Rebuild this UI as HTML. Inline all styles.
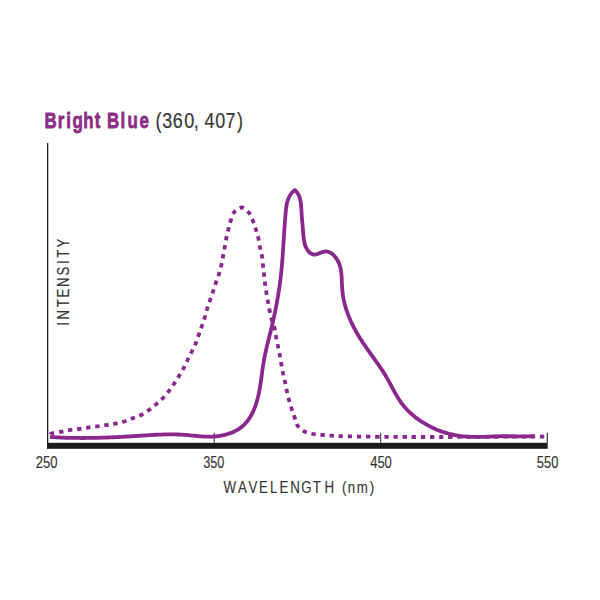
<!DOCTYPE html>
<html><head><meta charset="utf-8"><style>
html,body{margin:0;padding:0;background:#fff;width:600px;height:600px;overflow:hidden}
svg{display:block}
text{font-family:"Liberation Sans",sans-serif}
</style></head><body>
<svg width="600" height="600" viewBox="0 0 600 600">
<rect width="600" height="600" fill="#fff"/>
<text transform="translate(44.43,127.70) scale(0.7394,1)" font-size="22.8" font-weight="bold" fill="#8b2d86" stroke="#8b2d86" stroke-width="0.8" stroke-linejoin="round">B</text>
<text transform="translate(57.79,127.70) scale(0.7394,1)" font-size="22.8" font-weight="bold" fill="#8b2d86" stroke="#8b2d86" stroke-width="0.8" stroke-linejoin="round">r</text>
<text transform="translate(66.32,127.70) scale(0.7394,1)" font-size="22.8" font-weight="bold" fill="#8b2d86" stroke="#8b2d86" stroke-width="0.8" stroke-linejoin="round">i</text>
<text transform="translate(72.42,127.70) scale(0.7394,1)" font-size="22.8" font-weight="bold" fill="#8b2d86" stroke="#8b2d86" stroke-width="0.8" stroke-linejoin="round">g</text>
<text transform="translate(83.13,127.70) scale(0.7394,1)" font-size="22.8" font-weight="bold" fill="#8b2d86" stroke="#8b2d86" stroke-width="0.8" stroke-linejoin="round">h</text>
<text transform="translate(94.79,127.70) scale(0.7394,1)" font-size="22.8" font-weight="bold" fill="#8b2d86" stroke="#8b2d86" stroke-width="0.8" stroke-linejoin="round">t</text>
<text transform="translate(107.08,127.70) scale(0.7394,1)" font-size="22.8" font-weight="bold" fill="#8b2d86" stroke="#8b2d86" stroke-width="0.8" stroke-linejoin="round">B</text>
<text transform="translate(120.62,127.70) scale(0.7394,1)" font-size="22.8" font-weight="bold" fill="#8b2d86" stroke="#8b2d86" stroke-width="0.8" stroke-linejoin="round">l</text>
<text transform="translate(127.53,127.70) scale(0.7394,1)" font-size="22.8" font-weight="bold" fill="#8b2d86" stroke="#8b2d86" stroke-width="0.8" stroke-linejoin="round">u</text>
<text transform="translate(139.57,127.70) scale(0.7394,1)" font-size="22.8" font-weight="bold" fill="#8b2d86" stroke="#8b2d86" stroke-width="0.8" stroke-linejoin="round">e</text>
<text transform="translate(155.62,128.40) scale(0.8196,1)" font-size="22" fill="#383838" stroke="#383838" stroke-width="0.2" stroke-linejoin="round">(</text>
<text transform="translate(162.16,128.40) scale(0.8196,1)" font-size="22" fill="#383838" stroke="#383838" stroke-width="0.2" stroke-linejoin="round">3</text>
<text transform="translate(172.80,128.40) scale(0.8196,1)" font-size="22" fill="#383838" stroke="#383838" stroke-width="0.2" stroke-linejoin="round">6</text>
<text transform="translate(184.24,128.40) scale(0.8196,1)" font-size="22" fill="#383838" stroke="#383838" stroke-width="0.2" stroke-linejoin="round">0</text>
<text transform="translate(193.87,128.40) scale(0.8196,1)" font-size="22" fill="#383838" stroke="#383838" stroke-width="0.2" stroke-linejoin="round">,</text>
<text transform="translate(204.42,128.40) scale(0.8196,1)" font-size="22" fill="#383838" stroke="#383838" stroke-width="0.2" stroke-linejoin="round">4</text>
<text transform="translate(215.24,128.40) scale(0.8196,1)" font-size="22" fill="#383838" stroke="#383838" stroke-width="0.2" stroke-linejoin="round">0</text>
<text transform="translate(225.60,128.40) scale(0.8196,1)" font-size="22" fill="#383838" stroke="#383838" stroke-width="0.2" stroke-linejoin="round">7</text>
<text transform="translate(237.00,128.40) scale(0.8196,1)" font-size="22" fill="#383838" stroke="#383838" stroke-width="0.2" stroke-linejoin="round">)</text>
<rect x="47" y="143" width="1.3" height="306" fill="#222"/>
<rect x="47" y="442.8" width="500.7" height="6" fill="#1c1a1c"/>
<rect x="213.7" y="432.8" width="1" height="10" fill="#222"/>
<rect x="380.2" y="432.8" width="1" height="10" fill="#222"/>
<rect x="546.7" y="432.8" width="1.1" height="10" fill="#222"/>
<text transform="translate(35.71,467.80) scale(0.8145,1)" font-size="16.0" fill="#363636" stroke="#363636" stroke-width="0.15" stroke-linejoin="round" style="font-kerning:none">250</text>
<text transform="translate(203.18,467.80) scale(0.7926,1)" font-size="16.0" fill="#363636" stroke="#363636" stroke-width="0.15" stroke-linejoin="round" style="font-kerning:none">350</text>
<text transform="translate(370.16,467.80) scale(0.8123,1)" font-size="16.0" fill="#363636" stroke="#363636" stroke-width="0.15" stroke-linejoin="round" style="font-kerning:none">450</text>
<text transform="translate(536.84,467.80) scale(0.8092,1)" font-size="16.0" fill="#363636" stroke="#363636" stroke-width="0.15" stroke-linejoin="round" style="font-kerning:none">550</text>
<text transform="translate(223.45,492.70) scale(0.8086,1)" font-size="16.5" fill="#363636" stroke="#363636" stroke-width="0.15" stroke-linejoin="round">W</text>
<text transform="translate(238.05,492.70) scale(0.8086,1)" font-size="16.5" fill="#363636" stroke="#363636" stroke-width="0.15" stroke-linejoin="round">A</text>
<text transform="translate(248.55,492.70) scale(0.8086,1)" font-size="16.5" fill="#363636" stroke="#363636" stroke-width="0.15" stroke-linejoin="round">V</text>
<text transform="translate(259.04,492.70) scale(0.8086,1)" font-size="16.5" fill="#363636" stroke="#363636" stroke-width="0.15" stroke-linejoin="round">E</text>
<text transform="translate(269.96,492.70) scale(0.8086,1)" font-size="16.5" fill="#363636" stroke="#363636" stroke-width="0.15" stroke-linejoin="round">L</text>
<text transform="translate(279.54,492.70) scale(0.8086,1)" font-size="16.5" fill="#363636" stroke="#363636" stroke-width="0.15" stroke-linejoin="round">E</text>
<text transform="translate(290.18,492.70) scale(0.8086,1)" font-size="16.5" fill="#363636" stroke="#363636" stroke-width="0.15" stroke-linejoin="round">N</text>
<text transform="translate(301.22,492.70) scale(0.8086,1)" font-size="16.5" fill="#363636" stroke="#363636" stroke-width="0.15" stroke-linejoin="round">G</text>
<text transform="translate(312.68,492.70) scale(0.8086,1)" font-size="16.5" fill="#363636" stroke="#363636" stroke-width="0.15" stroke-linejoin="round">T</text>
<text transform="translate(324.43,492.70) scale(0.8086,1)" font-size="16.5" fill="#363636" stroke="#363636" stroke-width="0.15" stroke-linejoin="round">H</text>
<text transform="translate(341.92,492.70) scale(0.8046,1)" font-size="16.5" fill="#363636" stroke="#363636" stroke-width="0.15" stroke-linejoin="round">(</text>
<text transform="translate(347.70,492.70) scale(0.8046,1)" font-size="16.5" fill="#363636" stroke="#363636" stroke-width="0.15" stroke-linejoin="round">n</text>
<text transform="translate(356.67,492.70) scale(0.8046,1)" font-size="16.5" fill="#363636" stroke="#363636" stroke-width="0.15" stroke-linejoin="round">m</text>
<text transform="translate(369.66,492.70) scale(0.8046,1)" font-size="16.5" fill="#363636" stroke="#363636" stroke-width="0.15" stroke-linejoin="round">)</text>
<text transform="translate(69.20,325.79) rotate(-90) scale(0.8264,1)" font-size="16.0" fill="#363636" stroke="#363636" stroke-width="0.15" stroke-linejoin="round">I</text>
<text transform="translate(69.20,319.53) rotate(-90) scale(0.8264,1)" font-size="16.0" fill="#363636" stroke="#363636" stroke-width="0.15" stroke-linejoin="round">N</text>
<text transform="translate(69.20,307.23) rotate(-90) scale(0.8264,1)" font-size="16.0" fill="#363636" stroke="#363636" stroke-width="0.15" stroke-linejoin="round">T</text>
<text transform="translate(69.20,297.52) rotate(-90) scale(0.8264,1)" font-size="16.0" fill="#363636" stroke="#363636" stroke-width="0.15" stroke-linejoin="round">E</text>
<text transform="translate(69.20,287.08) rotate(-90) scale(0.8264,1)" font-size="16.0" fill="#363636" stroke="#363636" stroke-width="0.15" stroke-linejoin="round">N</text>
<text transform="translate(69.20,275.41) rotate(-90) scale(0.8264,1)" font-size="16.0" fill="#363636" stroke="#363636" stroke-width="0.15" stroke-linejoin="round">S</text>
<text transform="translate(69.20,263.94) rotate(-90) scale(0.8264,1)" font-size="16.0" fill="#363636" stroke="#363636" stroke-width="0.15" stroke-linejoin="round">I</text>
<text transform="translate(69.20,257.73) rotate(-90) scale(0.8264,1)" font-size="16.0" fill="#363636" stroke="#363636" stroke-width="0.15" stroke-linejoin="round">T</text>
<text transform="translate(69.20,247.51) rotate(-90) scale(0.8264,1)" font-size="16.0" fill="#363636" stroke="#363636" stroke-width="0.15" stroke-linejoin="round">Y</text>
<path d="M50.00,434.50 C50.33,434.30 50.12,433.77 52.00,433.30 C53.88,432.83 58.35,432.25 61.30,431.70 C64.25,431.15 66.80,430.45 69.70,430.00 C72.60,429.55 75.67,429.40 78.70,429.00 C81.73,428.60 84.83,428.03 87.90,427.60 C90.97,427.17 94.05,426.82 97.10,426.40 C100.15,425.98 103.22,425.55 106.20,425.10 C109.18,424.65 112.00,424.30 115.00,423.70 C118.00,423.10 121.28,422.40 124.20,421.50 C127.12,420.60 129.70,419.38 132.50,418.30 C135.30,417.22 138.25,416.38 141.00,415.00 C143.75,413.62 146.50,411.77 149.00,410.00 C151.50,408.23 153.67,406.40 156.00,404.40 C158.33,402.40 160.83,400.23 163.00,398.00 C165.17,395.77 167.17,393.33 169.00,391.00 C170.83,388.67 172.33,386.50 174.00,384.00 C175.67,381.50 177.40,378.67 179.00,376.00 C180.60,373.33 182.17,370.67 183.60,368.00 C185.03,365.33 186.27,362.67 187.60,360.00 C188.93,357.33 190.25,354.77 191.60,352.00 C192.95,349.23 194.52,346.23 195.70,343.40 C196.88,340.57 197.70,337.78 198.70,335.00 C199.70,332.22 200.70,329.57 201.70,326.70 C202.70,323.83 203.82,320.72 204.70,317.80 C205.58,314.88 206.12,312.12 207.00,309.20 C207.88,306.28 209.00,303.22 210.00,300.30 C211.00,297.38 212.03,294.58 213.00,291.70 C213.97,288.82 214.80,285.95 215.80,283.00 C216.80,280.05 218.08,276.95 219.00,274.00 C219.92,271.05 220.63,268.25 221.30,265.30 C221.97,262.35 222.43,259.27 223.00,256.30 C223.57,253.33 224.15,250.50 224.70,247.50 C225.25,244.50 225.70,241.28 226.30,238.30 C226.90,235.32 227.57,232.52 228.30,229.60 C229.03,226.68 229.72,223.72 230.70,220.80 C231.68,217.88 232.37,214.32 234.20,212.10 C236.03,209.88 239.27,207.43 241.70,207.50 C244.12,207.57 246.88,210.28 248.75,212.50 C250.62,214.72 251.72,218.02 252.90,220.80 C254.08,223.58 254.90,226.35 255.80,229.20 C256.70,232.05 257.60,234.85 258.30,237.90 C259.00,240.95 259.38,244.43 260.00,247.50 C260.62,250.57 261.50,253.33 262.00,256.30 C262.50,259.27 262.67,262.35 263.00,265.30 C263.33,268.25 263.67,271.00 264.00,274.00 C264.33,277.00 264.62,280.27 265.00,283.30 C265.38,286.33 265.82,289.17 266.30,292.20 C266.78,295.23 267.35,298.47 267.90,301.50 C268.45,304.53 268.97,307.38 269.60,310.40 C270.23,313.42 270.87,316.62 271.70,319.60 C272.53,322.58 273.87,325.40 274.60,328.30 C275.33,331.20 275.55,334.08 276.10,337.00 C276.65,339.92 277.28,342.80 277.90,345.80 C278.52,348.80 279.24,352.01 279.80,355.00 C280.36,357.99 280.73,360.77 281.25,363.75 C281.77,366.73 282.27,369.91 282.90,372.90 C283.52,375.89 284.37,378.77 285.00,381.70 C285.63,384.63 286.03,387.45 286.70,390.50 C287.37,393.55 288.20,397.00 289.00,400.00 C289.80,403.00 290.58,405.67 291.50,408.50 C292.42,411.33 293.50,414.17 294.50,417.00 C295.50,419.83 295.83,423.08 297.50,425.50 C299.17,427.92 301.83,430.08 304.50,431.50 C307.17,432.92 310.50,433.42 313.50,434.00 C316.50,434.58 319.50,434.72 322.50,435.00 C325.50,435.28 328.50,435.50 331.50,435.70 C334.50,435.90 332.42,436.02 340.50,436.20 C348.58,436.38 363.42,436.67 380.00,436.80 C396.58,436.93 412.50,437.05 440.00,437.00 C467.50,436.95 527.50,436.58 545.00,436.50" fill="none" stroke="#8a288e" stroke-width="3.8" stroke-dasharray="4.4 4.74" stroke-dashoffset="8.74"/>
<path d="M50.00,436.97 C50.33,436.99 51.33,437.05 51.99,437.09 C52.66,437.14 53.33,437.17 53.99,437.21 C54.66,437.25 55.33,437.29 55.99,437.32 C56.66,437.35 57.32,437.39 57.99,437.42 C58.66,437.45 59.32,437.48 59.99,437.51 C60.66,437.54 61.32,437.57 61.99,437.59 C62.66,437.62 63.33,437.64 63.99,437.67 C64.66,437.69 65.33,437.71 65.99,437.73 C66.66,437.75 67.33,437.77 67.99,437.79 C68.66,437.81 69.33,437.83 70.00,437.84 C70.66,437.86 71.33,437.87 72.00,437.88 C72.67,437.90 73.33,437.91 74.00,437.92 C74.67,437.93 75.33,437.94 76.00,437.94 C76.67,437.95 77.34,437.96 78.00,437.96 C78.67,437.97 79.34,437.97 80.01,437.98 C80.67,437.98 81.34,437.98 82.01,437.98 C82.68,437.98 83.34,437.98 84.01,437.98 C84.68,437.98 85.35,437.97 86.01,437.97 C86.68,437.97 87.35,437.96 88.01,437.96 C88.68,437.95 89.35,437.94 90.02,437.93 C90.68,437.93 91.35,437.92 92.02,437.91 C92.69,437.90 93.35,437.88 94.02,437.87 C94.69,437.86 95.36,437.85 96.02,437.83 C96.69,437.82 97.36,437.80 98.02,437.79 C98.69,437.77 99.36,437.75 100.03,437.74 C100.69,437.72 101.36,437.70 102.03,437.68 C102.69,437.66 103.36,437.64 104.03,437.62 C104.70,437.59 105.36,437.57 106.03,437.55 C106.70,437.52 107.36,437.50 108.03,437.48 C108.70,437.45 109.36,437.42 110.03,437.40 C110.70,437.37 111.36,437.34 112.03,437.31 C112.70,437.29 113.36,437.26 114.03,437.23 C114.70,437.20 115.36,437.17 116.03,437.14 C116.70,437.10 117.36,437.07 118.03,437.04 C118.70,437.01 119.36,436.97 120.03,436.94 C120.70,436.91 121.36,436.87 122.03,436.84 C122.70,436.80 123.36,436.76 124.03,436.73 C124.70,436.69 125.36,436.65 126.03,436.61 C126.69,436.58 127.36,436.54 128.03,436.50 C128.69,436.46 129.36,436.42 130.03,436.38 C130.69,436.34 131.36,436.30 132.02,436.26 C132.69,436.22 133.36,436.17 134.02,436.13 C134.69,436.09 135.35,436.05 136.02,436.00 C136.69,435.96 137.35,435.92 138.02,435.87 C138.68,435.83 139.35,435.78 140.02,435.74 C140.68,435.70 141.35,435.65 142.01,435.61 C142.68,435.56 143.35,435.52 144.01,435.48 C144.68,435.43 145.34,435.39 146.01,435.35 C146.68,435.31 147.34,435.26 148.01,435.22 C148.67,435.18 149.34,435.14 150.01,435.10 C150.67,435.06 151.34,435.02 152.01,434.99 C152.67,434.95 153.34,434.91 154.00,434.88 C154.67,434.84 155.34,434.81 156.00,434.77 C156.67,434.74 157.34,434.71 158.00,434.68 C158.67,434.65 159.34,434.62 160.00,434.60 C160.67,434.57 161.34,434.55 162.01,434.53 C162.67,434.50 163.34,434.48 164.01,434.47 C164.67,434.45 165.34,434.43 166.01,434.42 C166.68,434.41 167.34,434.40 168.01,434.39 C168.68,434.38 169.34,434.38 170.01,434.38 C170.68,434.37 171.35,434.37 172.01,434.38 C172.68,434.38 173.35,434.39 174.02,434.40 C174.68,434.41 175.35,434.42 176.02,434.44 C176.69,434.45 177.35,434.47 178.02,434.49 C178.69,434.52 179.35,434.54 180.02,434.58 C180.69,434.61 181.35,434.64 182.02,434.68 C182.69,434.72 183.35,434.76 184.02,434.81 C184.68,434.85 185.35,434.90 186.01,434.96 C186.68,435.01 187.34,435.07 188.01,435.13 C188.67,435.19 189.34,435.26 190.00,435.32 C190.67,435.39 191.33,435.46 191.99,435.52 C192.66,435.59 193.32,435.66 193.99,435.72 C194.65,435.79 195.31,435.86 195.98,435.92 C196.64,435.98 197.31,436.05 197.97,436.11 C198.64,436.17 199.30,436.23 199.97,436.28 C200.63,436.33 201.30,436.38 201.96,436.43 C202.63,436.47 203.30,436.51 203.96,436.54 C204.63,436.58 205.30,436.61 205.96,436.63 C206.63,436.65 207.30,436.66 207.96,436.67 C208.63,436.67 209.30,436.67 209.97,436.66 C210.63,436.65 211.30,436.63 211.97,436.60 C212.63,436.57 213.30,436.53 213.97,436.49 C214.63,436.44 215.30,436.38 215.96,436.32 C216.63,436.25 217.29,436.18 217.95,436.09 C218.61,436.01 219.27,435.91 219.93,435.81 C220.59,435.70 221.25,435.58 221.90,435.46 C222.56,435.33 223.21,435.19 223.86,435.04 C224.51,434.89 225.16,434.74 225.81,434.56 C226.45,434.39 227.09,434.21 227.73,434.01 C228.37,433.82 229.00,433.61 229.63,433.39 C230.26,433.17 230.89,432.94 231.51,432.69 C232.13,432.44 232.74,432.18 233.35,431.91 C233.96,431.64 234.56,431.35 235.16,431.05 C235.75,430.75 236.34,430.43 236.92,430.10 C237.50,429.77 238.07,429.42 238.64,429.06 C239.20,428.70 239.75,428.33 240.29,427.94 C240.83,427.55 241.36,427.14 241.88,426.72 C242.40,426.30 242.91,425.87 243.40,425.42 C243.89,424.97 244.37,424.50 244.83,424.02 C245.30,423.54 245.75,423.05 246.19,422.54 C246.62,422.04 247.04,421.52 247.45,420.99 C247.86,420.47 248.26,419.93 248.64,419.38 C249.02,418.84 249.39,418.28 249.75,417.72 C250.11,417.15 250.45,416.58 250.79,416.00 C251.12,415.43 251.44,414.84 251.76,414.25 C252.07,413.66 252.37,413.07 252.66,412.46 C252.95,411.86 253.23,411.26 253.50,410.65 C253.77,410.04 254.03,409.42 254.29,408.81 C254.54,408.19 254.78,407.57 255.02,406.94 C255.25,406.32 255.48,405.69 255.70,405.06 C255.91,404.43 256.12,403.79 256.33,403.16 C256.53,402.52 256.72,401.88 256.91,401.24 C257.10,400.60 257.28,399.96 257.45,399.32 C257.62,398.67 257.79,398.02 257.95,397.38 C258.11,396.73 258.26,396.08 258.41,395.43 C258.56,394.78 258.70,394.13 258.83,393.47 C258.97,392.82 259.10,392.16 259.23,391.51 C259.36,390.85 259.48,390.20 259.60,389.54 C259.71,388.88 259.83,388.23 259.94,387.57 C260.05,386.91 260.16,386.25 260.26,385.59 C260.36,384.93 260.46,384.27 260.56,383.61 C260.66,382.95 260.76,382.29 260.85,381.63 C260.94,380.97 261.04,380.31 261.13,379.65 C261.22,378.99 261.31,378.33 261.40,377.66 C261.49,377.00 261.57,376.34 261.66,375.68 C261.75,375.02 261.84,374.36 261.93,373.70 C262.01,373.03 262.10,372.37 262.19,371.71 C262.28,371.05 262.37,370.39 262.47,369.73 C262.56,369.07 262.65,368.41 262.75,367.75 C262.84,367.09 262.94,366.42 263.04,365.77 C263.14,365.11 263.25,364.45 263.35,363.79 C263.46,363.13 263.57,362.47 263.68,361.81 C263.80,361.16 263.91,360.50 264.03,359.84 C264.16,359.19 264.28,358.53 264.41,357.87 C264.53,357.22 264.66,356.56 264.80,355.91 C264.93,355.26 265.06,354.60 265.20,353.95 C265.34,353.30 265.48,352.64 265.62,351.99 C265.77,351.34 265.91,350.69 266.06,350.04 C266.21,349.39 266.35,348.74 266.51,348.09 C266.66,347.44 266.81,346.79 266.96,346.14 C267.12,345.49 267.27,344.84 267.43,344.19 C267.58,343.54 267.74,342.89 267.90,342.24 C268.06,341.60 268.22,340.95 268.38,340.30 C268.54,339.65 268.70,339.00 268.86,338.36 C269.02,337.71 269.18,337.06 269.35,336.41 C269.51,335.77 269.67,335.12 269.83,334.47 C269.99,333.82 270.15,333.18 270.32,332.53 C270.48,331.88 270.64,331.23 270.80,330.59 C270.96,329.94 271.12,329.29 271.28,328.64 C271.43,327.99 271.59,327.35 271.75,326.70 C271.91,326.05 272.06,325.40 272.22,324.75 C272.37,324.10 272.52,323.45 272.67,322.80 C272.82,322.15 272.97,321.50 273.12,320.85 C273.27,320.20 273.42,319.55 273.56,318.90 C273.71,318.24 273.85,317.59 274.00,316.94 C274.14,316.29 274.28,315.64 274.42,314.98 C274.56,314.33 274.70,313.68 274.83,313.03 C274.97,312.37 275.10,311.72 275.24,311.06 C275.37,310.41 275.50,309.76 275.64,309.10 C275.77,308.45 275.89,307.79 276.02,307.14 C276.15,306.48 276.28,305.83 276.40,305.17 C276.53,304.52 276.65,303.86 276.77,303.20 C276.89,302.55 277.01,301.89 277.13,301.23 C277.25,300.58 277.36,299.92 277.48,299.26 C277.59,298.61 277.71,297.95 277.82,297.29 C277.93,296.63 278.04,295.97 278.15,295.32 C278.26,294.66 278.37,294.00 278.47,293.34 C278.58,292.68 278.68,292.02 278.78,291.36 C278.88,290.70 278.98,290.04 279.08,289.38 C279.18,288.72 279.28,288.06 279.37,287.40 C279.47,286.74 279.56,286.08 279.65,285.42 C279.74,284.76 279.83,284.10 279.92,283.43 C280.01,282.77 280.10,282.11 280.18,281.45 C280.27,280.79 280.35,280.12 280.43,279.46 C280.51,278.80 280.59,278.14 280.67,277.47 C280.75,276.81 280.82,276.15 280.90,275.49 C280.97,274.82 281.04,274.16 281.11,273.49 C281.18,272.83 281.25,272.17 281.32,271.50 C281.39,270.84 281.45,270.18 281.52,269.51 C281.58,268.85 281.64,268.18 281.70,267.52 C281.77,266.85 281.83,266.19 281.88,265.52 C281.94,264.86 282.00,264.19 282.05,263.53 C282.11,262.86 282.16,262.20 282.22,261.53 C282.27,260.87 282.32,260.20 282.37,259.54 C282.43,258.87 282.48,258.21 282.53,257.54 C282.57,256.88 282.62,256.21 282.67,255.54 C282.72,254.88 282.77,254.21 282.81,253.55 C282.86,252.88 282.90,252.21 282.95,251.55 C282.99,250.88 283.04,250.22 283.08,249.55 C283.13,248.89 283.17,248.22 283.21,247.55 C283.25,246.89 283.30,246.22 283.34,245.56 C283.38,244.89 283.42,244.22 283.47,243.56 C283.51,242.89 283.55,242.23 283.59,241.56 C283.63,240.89 283.67,240.23 283.72,239.56 C283.76,238.89 283.80,238.23 283.84,237.56 C283.88,236.90 283.93,236.23 283.97,235.56 C284.01,234.90 284.05,234.23 284.10,233.57 C284.14,232.90 284.18,232.23 284.23,231.57 C284.27,230.90 284.31,230.24 284.36,229.57 C284.40,228.90 284.45,228.24 284.50,227.57 C284.54,226.91 284.59,226.24 284.64,225.58 C284.68,224.91 284.73,224.24 284.78,223.58 C284.83,222.91 284.88,222.25 284.93,221.58 C284.98,220.92 285.04,220.25 285.09,219.59 C285.14,218.92 285.20,218.26 285.25,217.59 C285.31,216.93 285.37,216.26 285.42,215.60 C285.48,214.93 285.54,214.27 285.60,213.60 C285.66,212.94 285.72,212.27 285.79,211.61 C285.85,210.94 285.92,210.28 285.99,209.62 C286.07,208.95 286.14,208.29 286.23,207.63 C286.32,206.97 286.42,206.31 286.53,205.65 C286.64,204.99 286.76,204.33 286.89,203.68 C287.03,203.03 287.19,202.38 287.36,201.73 C287.53,201.09 287.73,200.45 287.94,199.82 C288.16,199.19 288.40,198.56 288.67,197.95 C288.93,197.34 289.22,196.74 289.55,196.15 C289.87,195.57 290.22,195.00 290.59,194.45 C290.97,193.90 291.38,193.37 291.81,192.86 C292.24,192.35 292.70,191.86 293.18,191.40 C293.66,190.94 294.45,190.32 294.70,190.10 L295.16,190.31 C295.39,190.55 296.12,191.24 296.55,191.75 C296.98,192.26 297.38,192.80 297.73,193.37 C298.09,193.93 298.41,194.52 298.70,195.12 C298.99,195.73 299.23,196.35 299.46,196.98 C299.68,197.61 299.87,198.25 300.04,198.90 C300.21,199.54 300.35,200.20 300.48,200.85 C300.61,201.51 300.71,202.17 300.81,202.83 C300.90,203.49 300.97,204.16 301.04,204.82 C301.11,205.48 301.16,206.15 301.21,206.82 C301.26,207.48 301.31,208.15 301.35,208.82 C301.39,209.48 301.42,210.15 301.46,210.82 C301.50,211.49 301.54,212.15 301.58,212.82 C301.62,213.49 301.66,214.15 301.71,214.82 C301.75,215.49 301.80,216.15 301.85,216.82 C301.90,217.49 301.95,218.15 302.00,218.82 C302.05,219.49 302.11,220.15 302.16,220.82 C302.22,221.48 302.27,222.15 302.33,222.82 C302.39,223.48 302.45,224.15 302.51,224.81 C302.56,225.48 302.62,226.14 302.68,226.81 C302.74,227.48 302.80,228.14 302.86,228.81 C302.92,229.47 302.98,230.14 303.03,230.80 C303.09,231.47 303.15,232.14 303.20,232.80 C303.26,233.47 303.31,234.13 303.37,234.80 C303.43,235.46 303.49,236.13 303.56,236.80 C303.62,237.46 303.70,238.12 303.78,238.79 C303.87,239.45 303.96,240.11 304.07,240.77 C304.19,241.43 304.31,242.09 304.46,242.74 C304.61,243.39 304.77,244.04 304.97,244.68 C305.17,245.31 305.38,245.95 305.63,246.57 C305.89,247.18 306.16,247.80 306.48,248.38 C306.80,248.97 307.14,249.55 307.53,250.09 C307.91,250.64 308.33,251.16 308.78,251.65 C309.24,252.14 309.72,252.61 310.25,253.02 C310.78,253.42 311.34,253.81 311.95,254.07 C312.55,254.34 313.21,254.56 313.86,254.63 C314.52,254.70 315.20,254.61 315.85,254.48 C316.50,254.36 317.14,254.10 317.76,253.87 C318.39,253.64 318.99,253.35 319.61,253.10 C320.23,252.85 320.84,252.58 321.47,252.36 C322.10,252.14 322.74,251.92 323.39,251.78 C324.04,251.63 324.71,251.51 325.37,251.48 C326.03,251.45 326.72,251.49 327.37,251.61 C328.02,251.72 328.67,251.93 329.28,252.18 C329.90,252.44 330.49,252.77 331.05,253.12 C331.62,253.47 332.15,253.88 332.66,254.31 C333.18,254.74 333.66,255.21 334.12,255.69 C334.58,256.17 335.02,256.68 335.43,257.20 C335.85,257.73 336.24,258.27 336.61,258.82 C336.98,259.38 337.33,259.95 337.65,260.53 C337.98,261.12 338.28,261.71 338.56,262.32 C338.84,262.93 339.10,263.55 339.33,264.17 C339.56,264.80 339.77,265.43 339.96,266.08 C340.15,266.72 340.31,267.37 340.46,268.02 C340.61,268.67 340.74,269.32 340.85,269.98 C340.97,270.64 341.06,271.30 341.15,271.96 C341.24,272.63 341.31,273.29 341.38,273.96 C341.45,274.62 341.50,275.29 341.55,275.95 C341.60,276.62 341.64,277.29 341.68,277.95 C341.72,278.62 341.75,279.29 341.78,279.96 C341.81,280.62 341.84,281.29 341.86,281.96 C341.89,282.63 341.92,283.30 341.94,283.96 C341.97,284.63 342.00,285.30 342.04,285.97 C342.07,286.63 342.10,287.30 342.15,287.97 C342.19,288.63 342.24,289.30 342.30,289.97 C342.35,290.63 342.42,291.30 342.49,291.96 C342.56,292.63 342.65,293.29 342.74,293.95 C342.82,294.61 342.92,295.28 343.03,295.94 C343.13,296.59 343.24,297.25 343.36,297.91 C343.48,298.57 343.61,299.22 343.75,299.88 C343.88,300.53 344.02,301.19 344.17,301.84 C344.32,302.49 344.48,303.14 344.64,303.79 C344.81,304.43 344.98,305.08 345.16,305.72 C345.33,306.37 345.52,307.01 345.71,307.65 C345.90,308.29 346.10,308.93 346.30,309.57 C346.51,310.20 346.72,310.84 346.94,311.47 C347.15,312.10 347.38,312.73 347.60,313.36 C347.83,313.99 348.07,314.61 348.31,315.24 C348.55,315.86 348.80,316.48 349.05,317.10 C349.30,317.72 349.56,318.33 349.82,318.95 C350.08,319.56 350.35,320.18 350.62,320.79 C350.90,321.40 351.17,322.00 351.46,322.61 C351.74,323.21 352.03,323.82 352.32,324.42 C352.61,325.02 352.91,325.62 353.21,326.21 C353.52,326.81 353.82,327.40 354.13,327.99 C354.44,328.59 354.76,329.18 355.08,329.76 C355.40,330.35 355.72,330.93 356.05,331.52 C356.38,332.10 356.71,332.68 357.04,333.26 C357.38,333.84 357.72,334.41 358.06,334.99 C358.40,335.56 358.75,336.13 359.10,336.70 C359.45,337.27 359.80,337.84 360.15,338.40 C360.51,338.97 360.87,339.53 361.23,340.09 C361.60,340.66 361.96,341.22 362.33,341.77 C362.70,342.33 363.07,342.89 363.44,343.44 C363.81,344.00 364.19,344.55 364.56,345.10 C364.94,345.65 365.32,346.20 365.70,346.75 C366.08,347.30 366.46,347.85 366.85,348.40 C367.23,348.95 367.61,349.49 368.00,350.04 C368.39,350.58 368.77,351.13 369.16,351.67 C369.55,352.22 369.94,352.76 370.33,353.30 C370.71,353.85 371.10,354.39 371.49,354.93 C371.88,355.48 372.27,356.02 372.66,356.56 C373.05,357.11 373.44,357.65 373.83,358.19 C374.22,358.74 374.61,359.28 374.99,359.82 C375.38,360.37 375.77,360.91 376.15,361.46 C376.54,362.01 376.92,362.55 377.31,363.10 C377.69,363.65 378.07,364.19 378.45,364.74 C378.83,365.29 379.21,365.84 379.59,366.40 C379.97,366.95 380.34,367.50 380.72,368.05 C381.09,368.61 381.46,369.17 381.83,369.72 C382.19,370.28 382.56,370.84 382.92,371.40 C383.28,371.96 383.64,372.53 384.00,373.09 C384.36,373.66 384.71,374.23 385.06,374.80 C385.41,375.37 385.75,375.94 386.09,376.51 C386.44,377.09 386.77,377.66 387.11,378.24 C387.44,378.82 387.77,379.40 388.10,379.98 C388.42,380.57 388.75,381.15 389.07,381.74 C389.39,382.33 389.71,382.91 390.02,383.50 C390.34,384.09 390.65,384.68 390.97,385.27 C391.28,385.86 391.60,386.45 391.91,387.04 C392.23,387.63 392.54,388.22 392.86,388.81 C393.17,389.39 393.49,389.98 393.81,390.57 C394.13,391.16 394.45,391.74 394.77,392.33 C395.10,392.91 395.42,393.50 395.76,394.08 C396.09,394.66 396.42,395.24 396.76,395.81 C397.10,396.39 397.44,396.96 397.79,397.53 C398.14,398.10 398.50,398.66 398.86,399.23 C399.22,399.79 399.59,400.35 399.96,400.90 C400.34,401.45 400.72,402.00 401.11,402.54 C401.50,403.09 401.90,403.63 402.30,404.16 C402.71,404.69 403.12,405.21 403.54,405.73 C403.97,406.25 404.40,406.76 404.84,407.26 C405.27,407.77 405.72,408.26 406.17,408.76 C406.63,409.25 407.09,409.73 407.56,410.21 C408.02,410.69 408.50,411.16 408.98,411.62 C409.46,412.09 409.94,412.55 410.44,413.00 C410.93,413.45 411.43,413.90 411.93,414.33 C412.43,414.77 412.94,415.21 413.46,415.63 C413.97,416.06 414.49,416.48 415.01,416.90 C415.54,417.31 416.07,417.72 416.60,418.12 C417.13,418.52 417.67,418.92 418.21,419.31 C418.76,419.70 419.30,420.09 419.85,420.47 C420.40,420.84 420.96,421.22 421.52,421.58 C422.08,421.95 422.64,422.31 423.20,422.66 C423.77,423.02 424.34,423.37 424.92,423.71 C425.49,424.05 426.07,424.39 426.65,424.71 C427.23,425.04 427.82,425.37 428.41,425.68 C428.99,426.00 429.59,426.31 430.18,426.61 C430.78,426.91 431.38,427.21 431.98,427.50 C432.58,427.79 433.19,428.08 433.79,428.35 C434.40,428.63 435.01,428.90 435.63,429.16 C436.24,429.43 436.86,429.69 437.48,429.94 C438.10,430.19 438.72,430.43 439.34,430.67 C439.97,430.90 440.60,431.14 441.23,431.36 C441.86,431.58 442.49,431.80 443.12,432.01 C443.76,432.22 444.39,432.42 445.03,432.62 C445.67,432.82 446.31,433.01 446.95,433.19 C447.60,433.37 448.24,433.55 448.89,433.72 C449.53,433.89 450.18,434.05 450.83,434.21 C451.48,434.36 452.13,434.51 452.79,434.65 C453.44,434.80 454.09,434.93 454.75,435.06 C455.40,435.19 456.06,435.31 456.72,435.43 C457.38,435.54 458.04,435.65 458.70,435.75 C459.36,435.85 460.02,435.94 460.68,436.03 C461.35,436.12 462.01,436.20 462.67,436.27 C463.34,436.35 464.00,436.42 464.67,436.48 C465.33,436.54 466.00,436.59 466.67,436.64 C467.33,436.69 468.00,436.73 468.67,436.76 C469.33,436.80 470.00,436.83 470.67,436.85 C471.34,436.88 472.01,436.89 472.67,436.91 C473.34,436.92 474.01,436.93 474.68,436.94 C475.35,436.95 476.01,436.95 476.68,436.95 C477.35,436.94 478.02,436.94 478.69,436.93 C479.36,436.92 480.02,436.91 480.69,436.90 C481.36,436.88 482.03,436.87 482.70,436.85 C483.36,436.83 484.03,436.81 484.70,436.79 C485.37,436.77 486.04,436.74 486.70,436.72 C487.37,436.70 488.04,436.67 488.71,436.65 C489.38,436.62 490.04,436.60 490.71,436.57 C491.38,436.55 492.05,436.52 492.71,436.50 C493.38,436.47 494.05,436.45 494.72,436.43 C495.39,436.40 496.05,436.38 496.72,436.36 C497.39,436.34 498.06,436.32 498.73,436.31 C499.39,436.29 500.06,436.28 500.73,436.27 C501.40,436.26 502.07,436.25 502.73,436.24 C503.40,436.24 504.07,436.23 504.74,436.23 C505.41,436.23 506.08,436.23 506.74,436.23 C507.41,436.23 508.08,436.23 508.75,436.23 C509.42,436.24 510.09,436.24 510.75,436.25 C511.42,436.25 512.09,436.26 512.76,436.26 C513.43,436.27 514.09,436.28 514.76,436.28 C515.43,436.29 516.10,436.30 516.77,436.30 C517.44,436.31 518.10,436.31 518.77,436.32 C519.44,436.32 520.11,436.33 520.78,436.33 C521.45,436.33 522.11,436.33 522.78,436.33 C523.45,436.33 524.12,436.33 524.79,436.33 C525.45,436.32 526.12,436.32 526.79,436.31 C527.46,436.30 528.13,436.29 528.80,436.28 C529.46,436.26 530.13,436.25 530.80,436.23 C531.47,436.21 532.14,436.19 532.80,436.16 C533.47,436.14 534.47,436.09 534.81,436.08" fill="none" stroke="#8a288e" stroke-width="3.8" stroke-linejoin="round" stroke-linecap="butt"/>
</svg>
</body></html>
